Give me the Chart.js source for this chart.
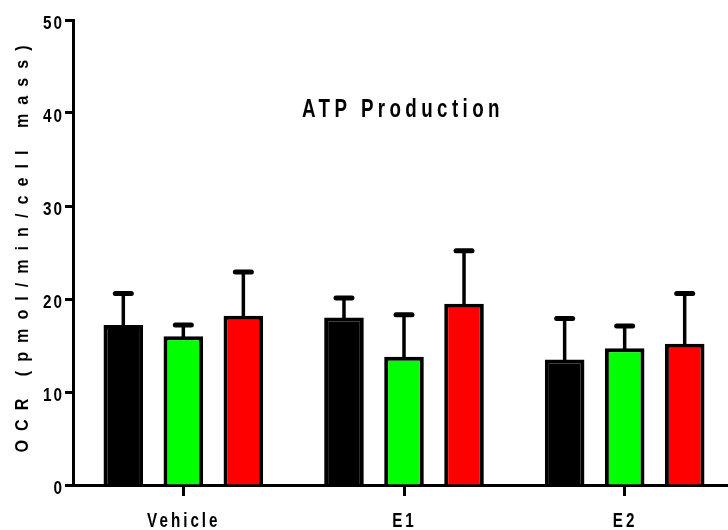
<!DOCTYPE html>
<html>
<head>
<meta charset="utf-8">
<script src="https://cdn.jsdelivr.net/npm/chart.js@4/dist/chart.umd.min.js"></script>
<style>
  html, body { margin: 0; padding: 0; background: #fff; overflow: hidden; }
  canvas { display: block; }
</style>
</head>
<body>
<canvas id="c" width="735" height="530"></canvas>
<script>
// Groups along the x axis
const categories = ['Vehicle', 'E1', 'E2'];

// Mean OCR per group for each condition
const blackMeans = [17.2, 18.0, 13.5];
const greenMeans = [16.0, 13.8, 14.7];
const redMeans   = [18.2, 19.5, 15.2];

// Upper error (SEM) per group for each condition
const blackErr = [3.4, 2.1, 4.4];
const greenErr = [1.2, 4.5, 2.4];
const redErr   = [4.7, 5.7, 5.4];

// Y axis tick values
const yTicks = [0, 10, 20, 30, 40, 50];

const chartTitle = 'ATP Production';
const yTitle = 'OCR (pmol/min/cell mass)';

const errors = [blackErr, greenErr, redErr];
const FONT = '"Liberation Sans", Arial, sans-serif';

// Draws condensed, letter-spaced bold text (spacing given in screen pixels)
function spacedText(ctx, text, x, y, o) {
  ctx.save();
  ctx.translate(x, y);
  if (o.rotate) ctx.rotate(-Math.PI / 2);
  ctx.scale(o.scaleX, 1);
  ctx.font = 'bold ' + o.size + 'px ' + FONT;
  const sp = o.spacing / o.scaleX;
  ctx.letterSpacing = sp + 'px';
  ctx.textAlign = 'left';
  ctx.textBaseline = 'alphabetic';
  ctx.fillStyle = '#000';
  const w = ctx.measureText(text).width - sp;
  const start = o.align === 'left' ? 0 : o.align === 'center' ? -w / 2 : -w;
  ctx.fillText(text, start, 0);
  ctx.restore();
}

// Upper-only error bars with a rounded cap
const errorBars = {
  id: 'errorBars',
  afterDatasetsDraw(chart) {
    const ctx = chart.ctx;
    const y = chart.scales.y;
    ctx.save();
    ctx.strokeStyle = '#000';
    chart.data.datasets.forEach((ds, di) => {
      const meta = chart.getDatasetMeta(di);
      meta.data.forEach((bar, i) => {
        const top = y.getPixelForValue(ds.data[i] + errors[di][i]);
        ctx.lineCap = 'butt';
        ctx.lineWidth = 3.5;
        ctx.beginPath();
        ctx.moveTo(bar.x, bar.y + 2);
        ctx.lineTo(bar.x, top);
        ctx.stroke();
        ctx.lineCap = 'round';
        ctx.lineWidth = 5;
        ctx.beginPath();
        ctx.moveTo(bar.x - 8, top);
        ctx.lineTo(bar.x + 8, top);
        ctx.stroke();
      });
    });
    ctx.restore();
  }
};

// Tick labels, plot title and rotated axis title
const labels = {
  id: 'labels',
  afterDraw(chart) {
    const ctx = chart.ctx;
    const x = chart.scales.x;
    const y = chart.scales.y;

    yTicks.forEach(v => {
      spacedText(ctx, String(v), chart.chartArea.left - 11, y.getPixelForValue(v) + 9,
        { size: 18, scaleX: 0.85, spacing: 2, align: 'right' });
    });

    categories.forEach((c, i) => {
      spacedText(ctx, c, x.getPixelForValue(i) - 1, chart.chartArea.bottom + 41.5,
        { size: 19.5, scaleX: 0.78, spacing: 3, align: 'center' });
    });

    spacedText(ctx, chartTitle, 302, y.getPixelForValue(39.6),
      { size: 25, scaleX: 0.75, spacing: 4.4, align: 'left' });

    spacedText(ctx, yTitle, 28, 249,
      { size: 19, scaleX: 0.85, spacing: 9, align: 'center', rotate: true });
  }
};

new Chart(document.getElementById('c'), {
  type: 'bar',
  data: {
    labels: categories,
    datasets: [
      { data: blackMeans, backgroundColor: '#000000', borderColor: '#000', borderWidth: 4 },
      { data: greenMeans, backgroundColor: '#00ff00', borderColor: '#000', borderWidth: 4 },
      { data: redMeans,   backgroundColor: '#ff0000', borderColor: '#000', borderWidth: 4 }
    ]
  },
  options: {
    responsive: false,
    animation: false,
    devicePixelRatio: 1,
    layout: { padding: { top: 20, right: 0, bottom: 0, left: 0 } },
    categoryPercentage: 0.816,
    barPercentage: 0.66,
    plugins: {
      legend: { display: false },
      tooltip: { enabled: false },
      title: { display: false }
    },
    scales: {
      x: {
        offset: true,
        grid: {
          offset: false,
          drawOnChartArea: false,
          drawTicks: true,
          tickLength: 11,
          tickWidth: 3,
          tickColor: '#000'
        },
        border: { display: true, color: '#000', width: 3 },
        ticks: { display: false },
        afterFit(scale) { scale.height = 45; }
      },
      y: {
        min: 0,
        max: 50,
        afterBuildTicks(scale) { scale.ticks = yTicks.map(v => ({ value: v })); },
        grid: {
          drawOnChartArea: false,
          drawTicks: true,
          tickLength: 8,
          tickWidth: 3,
          tickColor: '#000'
        },
        border: { display: true, color: '#000', width: 3 },
        ticks: { display: false },
        afterFit(scale) { scale.width = 73; }
      }
    }
  },
  plugins: [errorBars, labels]
});
</script>
</body>
</html>
